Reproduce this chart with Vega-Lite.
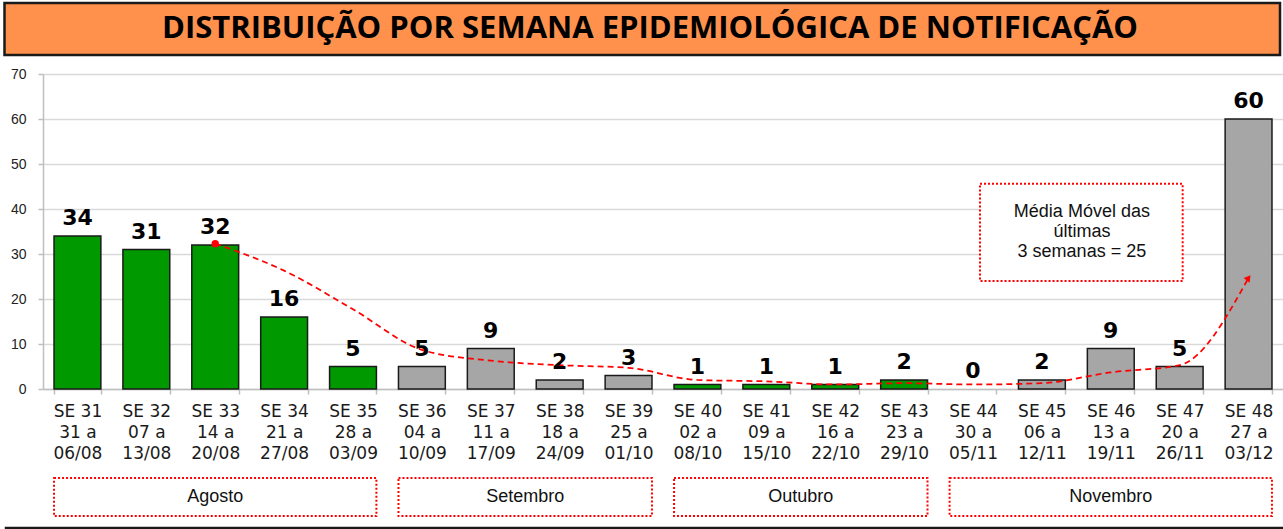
{
  "$schema": "https://vega.github.io/schema/vega-lite/v6.json",
  "padding": {"left": 3, "top": 1, "right": 0, "bottom": 0},
  "background": "white",
  "config": {"view": {"stroke": null}},
  "datasets": {
    "semanas": [
      {"sem": "SE 31|31 a|06/08", "num": 31, "casos": 34, "grupo": "A", "mes": "Agosto", "mm": null},
      {"sem": "SE 32|07 a|13/08", "num": 32, "casos": 31, "grupo": "A", "mes": "Agosto", "mm": null},
      {"sem": "SE 33|14 a|20/08", "num": 33, "casos": 32, "grupo": "A", "mes": "Agosto", "mm": 32.3},
      {"sem": "SE 34|21 a|27/08", "num": 34, "casos": 16, "grupo": "A", "mes": "Agosto", "mm": 26.3},
      {"sem": "SE 35|28 a|03/09", "num": 35, "casos": 5, "grupo": "A", "mes": "Agosto", "mm": 17.7},
      {"sem": "SE 36|04 a|10/09", "num": 36, "casos": 5, "grupo": "B", "mes": "Setembro", "mm": 8.7},
      {"sem": "SE 37|11 a|17/09", "num": 37, "casos": 9, "grupo": "B", "mes": "Setembro", "mm": 6.3},
      {"sem": "SE 38|18 a|24/09", "num": 38, "casos": 2, "grupo": "B", "mes": "Setembro", "mm": 5.3},
      {"sem": "SE 39|25 a|01/10", "num": 39, "casos": 3, "grupo": "B", "mes": "Setembro", "mm": 4.7},
      {"sem": "SE 40|02 a|08/10", "num": 40, "casos": 1, "grupo": "A", "mes": "Outubro", "mm": 2.0},
      {"sem": "SE 41|09 a|15/10", "num": 41, "casos": 1, "grupo": "A", "mes": "Outubro", "mm": 1.7},
      {"sem": "SE 42|16 a|22/10", "num": 42, "casos": 1, "grupo": "A", "mes": "Outubro", "mm": 1.0},
      {"sem": "SE 43|23 a|29/10", "num": 43, "casos": 2, "grupo": "A", "mes": "Outubro", "mm": 1.3},
      {"sem": "SE 44|30 a|05/11", "num": 44, "casos": 0, "grupo": "B", "mes": "Novembro", "mm": 1.0},
      {"sem": "SE 45|06 a|12/11", "num": 45, "casos": 2, "grupo": "B", "mes": "Novembro", "mm": 1.3},
      {"sem": "SE 46|13 a|19/11", "num": 46, "casos": 9, "grupo": "B", "mes": "Novembro", "mm": 3.7},
      {"sem": "SE 47|20 a|26/11", "num": 47, "casos": 5, "grupo": "B", "mes": "Novembro", "mm": 5.3},
      {"sem": "SE 48|27 a|03/12", "num": 48, "casos": 60, "grupo": "B", "mes": "Novembro", "mm": 24.7}
    ],
    "titulo": [{"t": "DISTRIBUIÇÃO POR SEMANA EPIDEMIOLÓGICA DE NOTIFICAÇÃO"}],
    "nota": [{"t": "Média Móvel das\núltimas\n3 semanas  = 25"}]
  },
  "spacing": 10,
  "vconcat": [
    {
      "width": 1240,
      "height": 52,
      "data": {"name": "titulo"},
      "layer": [
        {
          "mark": {"type": "rect", "fill": "#FF914D", "stroke": "#1a1a1a", "strokeWidth": 2.5, "xOffset": -38.5, "x2Offset": -3},
          "encoding": {
            "x": {"datum": 0, "type": "quantitative", "scale": {"domain": [0, 1], "nice": false, "zero": false}, "axis": null},
            "x2": {"datum": 1}
          }
        },
        {
          "mark": {"type": "text", "font": "Open Sans", "fontWeight": "bold", "fontSize": 31, "color": "#000000", "baseline": "middle", "align": "center", "dx": -13},
          "encoding": {"text": {"field": "t", "type": "nominal"}}
        }
      ]
    },
    {
      "spacing": 9,
      "vconcat": [
        {
          "width": 1240,
          "height": 315,
          "data": {"name": "semanas"},
          "encoding": {
            "x": {
              "field": "sem", "type": "nominal", "sort": null,
              "scale": {"paddingInner": 0.32, "paddingOuter": 0.16},
              "axis": {
                "title": null, "labelAngle": 0,
                "labelExpr": "isValid(datum.value) ? split(datum.value, '|') : ''",
                "labelFont": "DejaVu Sans", "labelFontSize": 17, "labelColor": "#1a1a1a",
                "labelLineHeight": 21, "labelPadding": 9,
                "domainColor": "#BFBFBF", "domainWidth": 1.5,
                "tickColor": "#BFBFBF", "tickSize": 5, "tickWidth": 1.5, "tickBand": "extent",
                "minExtent": 79, "maxExtent": 79
              }
            }
          },
          "layer": [
            {
              "mark": {"type": "bar", "stroke": "#1a1a1a", "strokeWidth": 1.5},
              "encoding": {
                "y": {
                  "field": "casos", "type": "quantitative",
                  "scale": {"domain": [0, 70], "nice": false},
                  "axis": {
                    "title": null, "values": [0, 10, 20, 30, 40, 50, 60, 70],
                    "labelFont": "Liberation Sans", "labelFontSize": 14, "labelColor": "#222222",
                    "labelPadding": 12, "tickSize": 5, "tickColor": "#BFBFBF", "tickWidth": 1.5,
                    "domainColor": "#BFBFBF", "domainWidth": 1.5,
                    "gridColor": "#D9D9D9", "gridWidth": 1.5,
                    "minExtent": 40, "maxExtent": 40
                  }
                },
                "color": {
                  "field": "grupo", "type": "nominal",
                  "scale": {"domain": ["A", "B"], "range": ["#009900", "#A6A6A6"]},
                  "legend": null
                },
                "strokeOpacity": {"condition": {"test": "datum.casos == 0", "value": 0}, "value": 1}
              }
            },
            {
              "transform": [{"filter": "isValid(datum.mm)"}],
              "mark": {"type": "line", "color": "#FF0000", "strokeWidth": 1.75, "strokeDash": [6, 4], "interpolate": "monotone"},
              "encoding": {"y": {"field": "mm", "type": "quantitative"}}
            },
            {
              "transform": [{"filter": "datum.num == 33"}],
              "mark": {"type": "point", "filled": true, "color": "#FF0000", "size": 55, "opacity": 1},
              "encoding": {"y": {"field": "mm", "type": "quantitative"}}
            },
            {
              "transform": [{"filter": "datum.num == 48"}],
              "mark": {"type": "point", "shape": "triangle-up", "filled": true, "color": "#FF0000", "size": 55, "opacity": 1, "angle": 38},
              "encoding": {"y": {"field": "mm", "type": "quantitative"}}
            },
            {
              "mark": {"type": "text", "font": "DejaVu Sans", "fontWeight": "bold", "fontSize": 22, "color": "#000000", "baseline": "alphabetic", "dy": -11},
              "encoding": {
                "y": {"field": "casos", "type": "quantitative"},
                "text": {"field": "casos", "type": "quantitative"}
              }
            },
            {
              "data": {"name": "nota"},
              "mark": {"type": "rect", "fill": "white", "stroke": "#FF0000", "strokeWidth": 2, "strokeDash": [2, 2], "xOffset": 7, "x2Offset": 3},
              "encoding": {
                "x": {"datum": "SE 44|30 a|05/11"},
                "x2": {"datum": "SE 47|20 a|26/11"},
                "y": {"datum": 45.6},
                "y2": {"datum": 24}
              }
            },
            {
              "data": {"name": "nota"},
              "mark": {"type": "text", "font": "Liberation Sans", "fontSize": 18, "color": "#111111", "lineBreak": "\n", "lineHeight": 20, "align": "center", "baseline": "middle", "dx": 40, "dy": -20},
              "encoding": {
                "x": {"datum": "SE 45|06 a|12/11"},
                "y": {"datum": 34.8},
                "text": {"field": "t", "type": "nominal"}
              }
            }
          ]
        },
        {
          "width": 1240,
          "height": 38,
          "data": {"name": "semanas"},
          "layer": [
            {
              "mark": {"type": "rect", "fill": "white", "stroke": "#FF0000", "strokeWidth": 2, "strokeDash": [2, 2], "xOffset": -23.4, "x2Offset": 23.4},
              "encoding": {
                "x": {"aggregate": "min", "field": "num", "type": "quantitative", "scale": {"domain": [30.5, 48.5], "nice": false, "zero": false}, "axis": null},
                "x2": {"aggregate": "max", "field": "num"},
                "detail": {"field": "mes", "type": "nominal"}
              }
            },
            {
              "mark": {"type": "text", "font": "Liberation Sans", "fontSize": 18, "color": "#111111", "baseline": "middle", "align": "center"},
              "encoding": {
                "x": {"aggregate": "mean", "field": "num", "type": "quantitative"},
                "text": {"field": "mes", "type": "nominal"}
              }
            }
          ]
        },
        {
          "width": 1240,
          "height": 6,
          "data": {"name": "titulo"},
          "mark": {"type": "rect", "fill": "#FF914D", "stroke": "#1a1a1a", "strokeWidth": 2.5, "xOffset": -37, "x2Offset": 0},
          "encoding": {
            "x": {"datum": 0, "type": "quantitative", "scale": {"domain": [0, 1], "nice": false, "zero": false}, "axis": null},
            "x2": {"datum": 1}
          }
        }
      ]
    }
  ]
}
